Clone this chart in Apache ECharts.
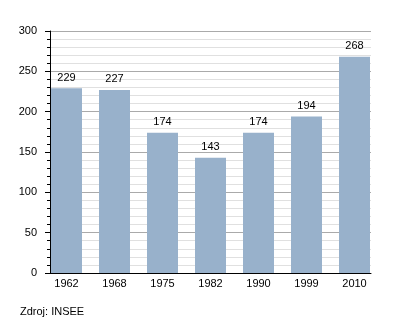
<!DOCTYPE html>
<html>
<head>
<meta charset="utf-8">
<script src="https://cdn.jsdelivr.net/npm/echarts@6/dist/echarts.min.js"></script>
<style>html,body{margin:0;padding:0;background:#fff;}#c{width:400px;height:323px;}</style>
</head>
<body>
<div id="c"></div>
<script>
var categories = ['1962', '1968', '1975', '1982', '1990', '1999', '2010'];
var population = [229, 227, 174, 143, 174, 194, 268];
var sourceText = 'Zdroj: INSEE';

var chart = echarts.init(document.getElementById('c'), null, {renderer: 'canvas'});
var font = 'Liberation Sans, Arial, sans-serif';
chart.setOption({
  animation: false,
  backgroundColor: '#fff',
  textStyle: {fontFamily: font},
  graphic: [{
    type: 'text', left: 20, top: 306,
    style: {text: sourceText, font: '11px ' + font, fill: '#000'}
  }],
  grid: [
    {left: 50, right: 29, top: 31, bottom: 50},
    {left: 42.5, right: 21.5, top: 31, bottom: 50}
  ],
  xAxis: [
    {type: 'category', gridIndex: 0, data: categories, axisLine: {lineStyle: {color: '#000', width: 1}}, axisTick: {show: false}, axisLabel: {show: false}},
    {type: 'category', gridIndex: 1, data: categories, axisLine: {show: false}, axisTick: {show: false},
      axisLabel: {color: '#000', fontSize: 11, margin: 5, fontFamily: font}}
  ],
  yAxis: [
    {type: 'value', gridIndex: 0, min: 0, max: 300, interval: 50,
      axisLine: {show: true, lineStyle: {color: '#000'}},
      axisTick: {show: true, length: 5, lineStyle: {color: '#000'}},
      minorTick: {show: true, splitNumber: 5, length: 3, lineStyle: {color: '#000'}},
      splitLine: {show: true, lineStyle: {color: '#aaaaaa'}},
      minorSplitLine: {show: true, lineStyle: {color: '#e0e0e0'}},
      axisLabel: {color: '#000', fontSize: 11, margin: 13, fontFamily: font}},
    {type: 'value', gridIndex: 1, min: 0, max: 300, interval: 50, show: false, splitLine: {show: false}}
  ],
  series: [{
    type: 'bar', xAxisIndex: 1, yAxisIndex: 1, data: population, barWidth: 31,
    itemStyle: {color: '#98b1cb'},
    label: {show: true, position: 'top', distance: 5, color: '#000', fontSize: 11, fontFamily: font}
  }]
});
</script>
</body>
</html>
